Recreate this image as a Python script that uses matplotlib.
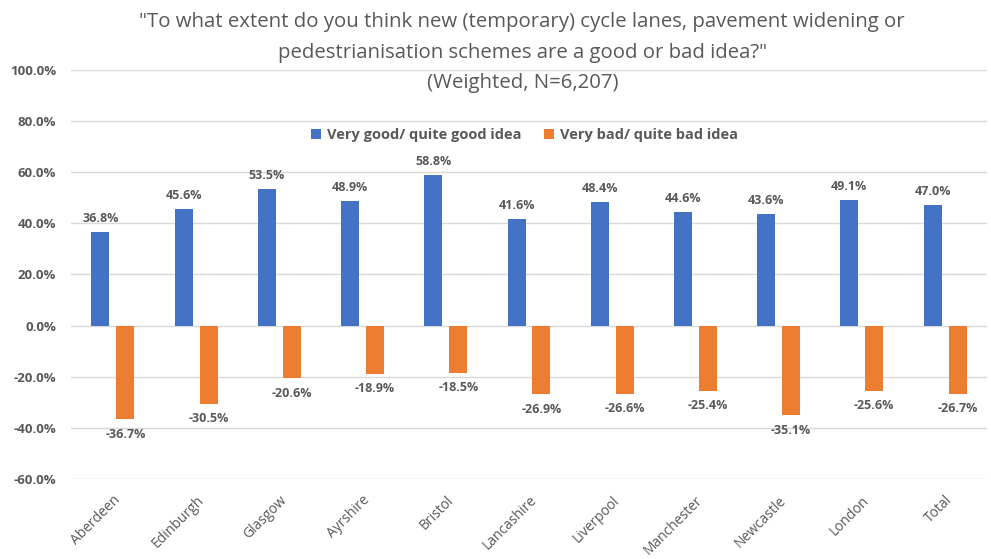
import matplotlib
matplotlib.use("Agg")
import matplotlib.pyplot as plt
import numpy as np

categories = ["Aberdeen", "Edinburgh", "Glasgow", "Ayrshire", "Bristol", "Lancashire",
              "Liverpool", "Manchester", "Newcastle", "London", "Total"]
good = [36.8, 45.6, 53.5, 48.9, 58.8, 41.6, 48.4, 44.6, 43.6, 49.1, 47.0]
bad = [-36.7, -30.5, -20.6, -18.9, -18.5, -26.9, -26.6, -25.4, -35.1, -25.6, -26.7]
series_names = ["Very good/ quite good idea", "Very bad/ quite bad idea"]
yticks = [100, 80, 60, 40, 20, 0, -20, -40, -60]

plt.rcParams['font.family'] = ['Open Sans', 'DejaVu Sans']
TXT = '#595959'
BLUE = '#4472C4'
ORANGE = '#ED7D31'

fig = plt.figure(figsize=(9.91, 5.59), dpi=100)
ax = fig.add_axes([0.072, 0.143, 0.9236, 0.732])

x = np.arange(len(categories))
w = 0.216
off = 0.15
ax.bar(x - off, good, w, color=BLUE, label=series_names[0], zorder=3)
ax.bar(x + off, bad, w, color=ORANGE, label=series_names[1], zorder=3)

for xi, v in zip(x, good):
    ax.annotate(f"{v:.1f}%", (xi - off, v), xytext=(0, 5), textcoords='offset points',
                ha='center', va='bottom', fontsize=9, fontweight='bold', color=TXT)
for xi, v in zip(x, bad):
    ax.annotate(f"{v:.1f}%", (xi + off, v), xytext=(0, -6), textcoords='offset points',
                ha='center', va='top', fontsize=9, fontweight='bold', color=TXT)

ax.set_ylim(-60, 100)
ax.set_xlim(-0.5, len(categories) - 0.5)
ax.set_yticks(yticks)
ax.set_yticklabels([f"{t:.1f}%" for t in yticks], fontsize=9.5, fontweight='bold', color=TXT)
ax.set_xticks(x)
ax.set_xticklabels(categories, rotation=45, ha='right', rotation_mode='anchor',
                   fontsize=10, color=TXT)
ax.tick_params(axis='x', length=0, pad=10)
ax.tick_params(axis='y', length=0, pad=11)
ax.yaxis.grid(True, color='#D9D9D9', linewidth=1, zorder=0)
for s in ax.spines.values():
    s.set_visible(False)

ax.legend(loc='upper center', bbox_to_anchor=(0.495, 0.89), ncol=2, frameon=False,
          handlelength=0.7, handleheight=0.7, columnspacing=1.5,
          handletextpad=0.4, labelcolor=TXT, prop={'weight': 'bold', 'size': 10.5})

fig.text(0.527, 0.96, '"To what extent do you think new (temporary) cycle lanes, pavement widening or',
         ha='center', va='center', fontsize=14.7, color=TXT)
fig.text(0.527, 0.906, 'pedestrianisation schemes are a good or bad idea?"',
         ha='center', va='center', fontsize=14.7, color=TXT)
fig.text(0.527, 0.851, '(Weighted, N=6,207)',
         ha='center', va='center', fontsize=14.7, color=TXT)

fig.savefig('out.png', dpi=100, facecolor='white')
